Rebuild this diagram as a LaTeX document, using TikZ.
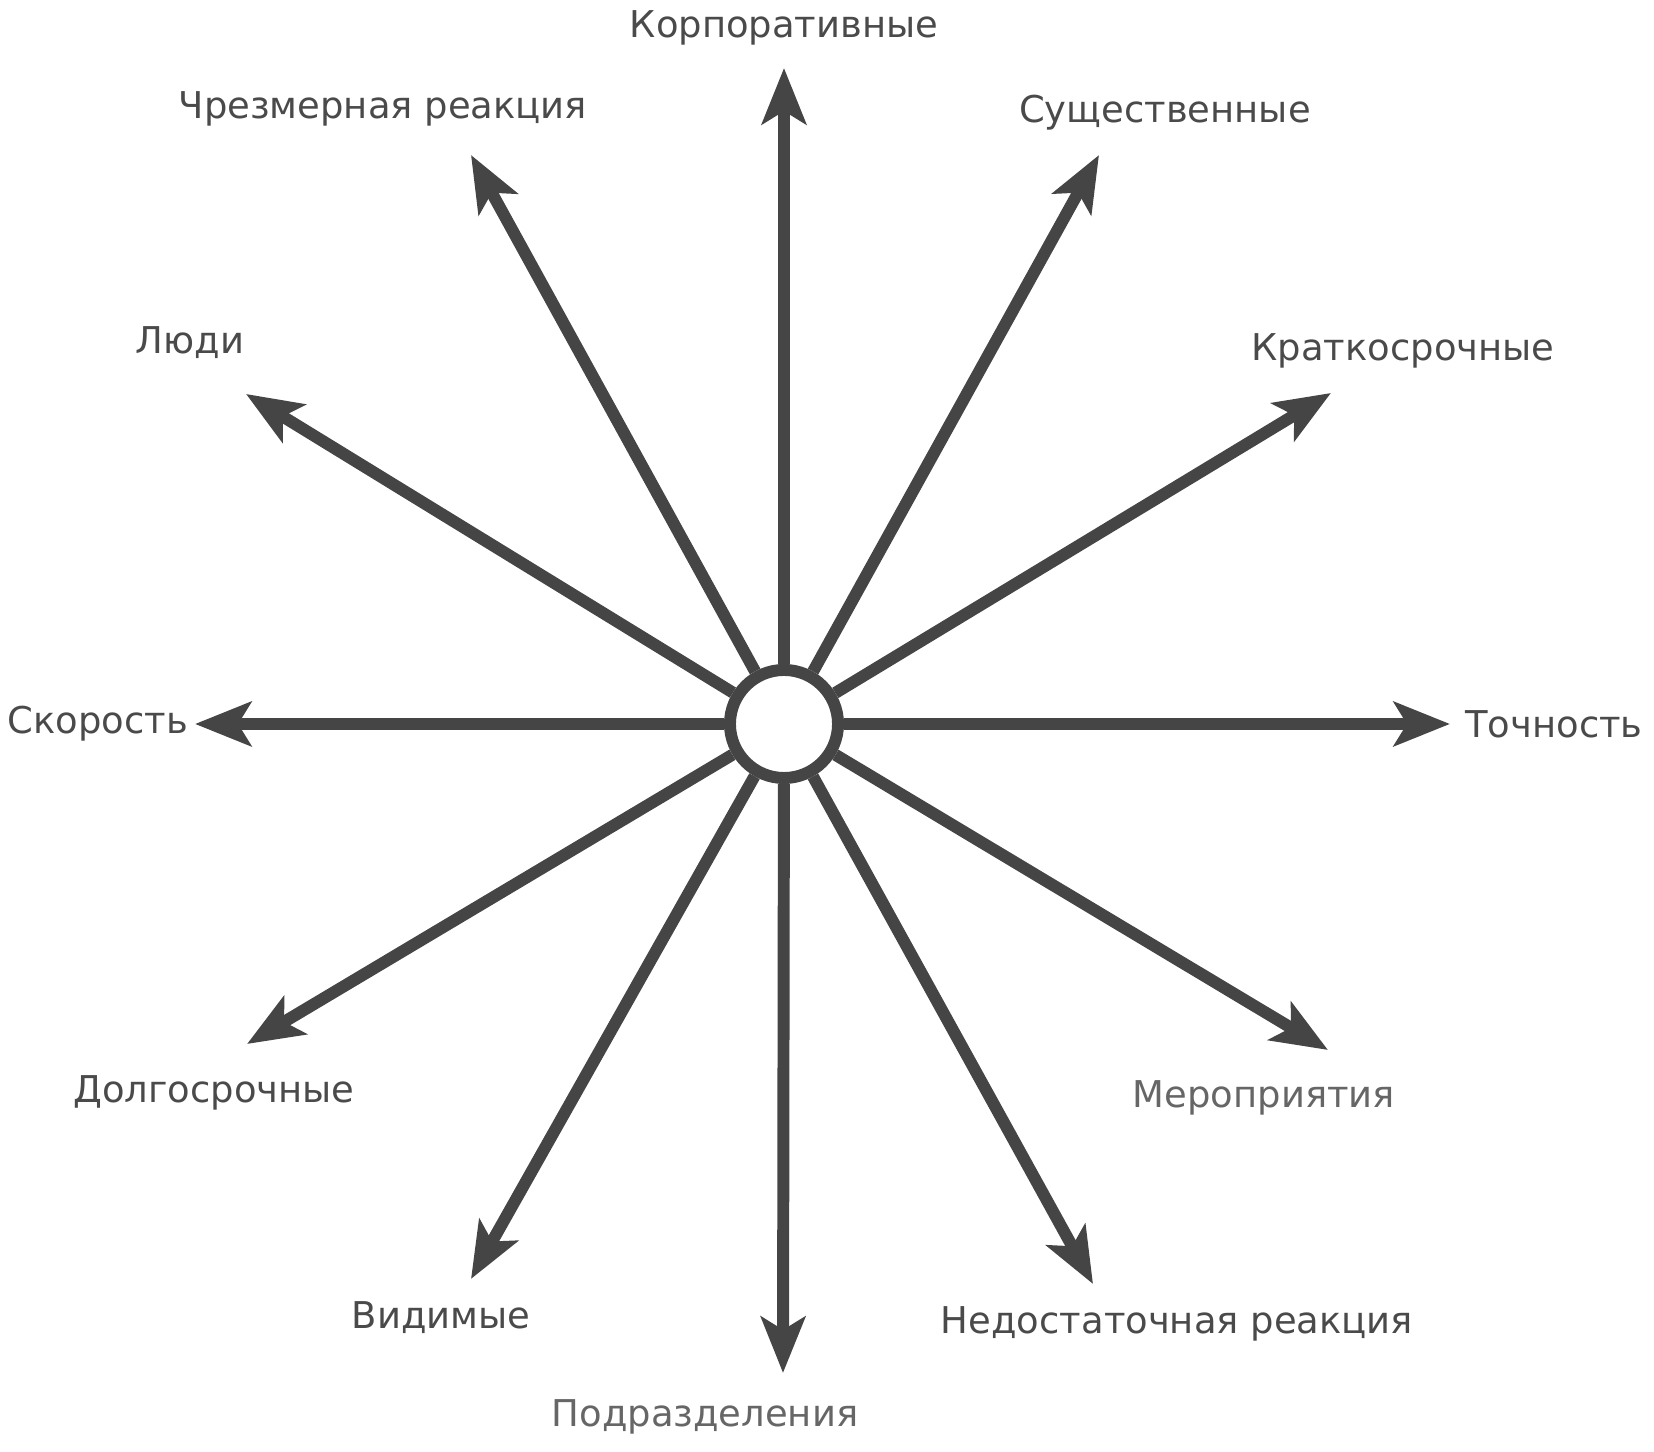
\documentclass[tikz,border=0pt]{standalone}
\usepackage{fontspec}
\setmainfont{DejaVu Sans}
\usetikzlibrary{arrows.meta}
\definecolor{spokegray}{HTML}{454545}
\definecolor{labelgray}{HTML}{4A4A4A}
\definecolor{lightlabel}{HTML}{666666}

\begin{document}
\begin{tikzpicture}[x=0.01cm, y=0.01cm, line width=3.4pt,
    spoke/.style={draw=spokegray, -{Stealth[length=0.56cm, width=0.44cm, inset=0.13cm]}},
    lbl/.style={text=labelgray, inner sep=0pt, font=\fontsize{10.5}{12}\selectfont}]
  \useasboundingbox (0,0) rectangle (1654,1452);
  \node[circle, draw=spokegray, fill=white, minimum size=1.08cm, inner sep=0pt] (hub) at (784,728) {};
  % ends of the spokes
  \coordinate (corp) at (784,1384);
  \coordinate (ess)  at (1099,1297);
  \coordinate (short) at (1331,1059);
  \coordinate (acc)  at (1450,728);
  \coordinate (event) at (1328,402);
  \coordinate (under) at (1093,168);
  \coordinate (unit) at (783,79);
  \coordinate (vis)  at (471,173);
  \coordinate (long) at (247,408);
  \coordinate (speed) at (195,728);
  \coordinate (people) at (246,1058);
  \coordinate (over) at (471,1297);
  \foreach \e in {corp,ess,short,acc,event,under,unit,vis,long,speed,people,over}
    \draw[spoke] (hub) -- (\e);
  % labels
  \node[lbl] (corp-l) at (784,1424) {Корпоративные};
  \node[lbl] (over-l) at (383,1343) {Чрезмерная реакция};
  \node[lbl] (ess-l) at (1165,1339) {Существенные};
  \node[lbl] (people-l) at (190,1109) {Люди};
  \node[lbl] (short-l) at (1403,1101) {Краткосрочные};
  \node[lbl] (speed-l) at (98,728) {Скорость};
  \node[lbl] (acc-l) at (1554,728) {Точность};
  \node[lbl] (long-l) at (214,359) {Долгосрочные};
  \node[lbl, text=lightlabel] (event-l) at (1264,354) {Мероприятия};
  \node[lbl] (vis-l) at (441,134) {Видимые};
  \node[lbl] (under-l) at (1177,128) {Недостаточная реакция};
  \node[lbl, text=lightlabel] (unit-l) at (705,35) {Подразделения};
\end{tikzpicture}
\end{document}
